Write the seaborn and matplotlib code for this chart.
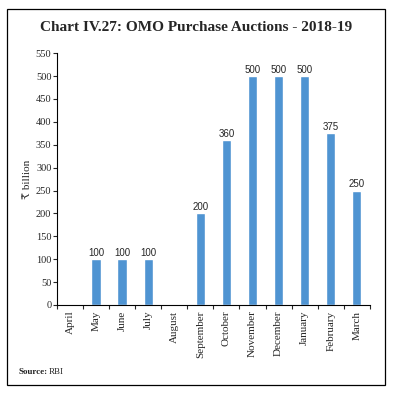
import seaborn as sns
import matplotlib.pyplot as plt
import pandas as pd
from matplotlib.patches import Rectangle

# data
months = ['April', 'May', 'June', 'July', 'August', 'September', 'October',
          'November', 'December', 'January', 'February', 'March']
purchases = [0, 100, 100, 100, 0, 200, 360, 500, 500, 500, 375, 250]
y_ticks = list(range(0, 551, 50))

BAR_COLOR = '#4F94D2'
SERIF = ['Liberation Serif', 'DejaVu Serif', 'DejaVu Sans']

sns.set_style('white')
plt.rcParams['font.family'] = SERIF

df = pd.DataFrame({'month': months, 'value': purchases})

fig = plt.figure(figsize = (3.93, 3.94), dpi = 100)
ax = fig.add_axes([0.145, 0.226, 0.796, 0.639])

sns.barplot(data = df, x = 'month', y = 'value', color = BAR_COLOR,
            width = 0.36, saturation = 1, ax = ax)

# value labels, skip the empty months
labels = [str(v) if v else '' for v in purchases]
ax.bar_label(ax.containers[0], labels = labels, padding = 1, fontsize = 7,
             family = ['Liberation Sans', 'DejaVu Sans'])

ax.set_xlim(-0.5, len(months) - 0.5)
ax.set_ylim(0, 550)
ax.set_yticks(y_ticks)
ax.tick_params(axis = 'y', labelsize = 7.5, length = 3, width = 0.8, pad = 1, left = True, direction = 'out')

# month labels centred, tick marks on the category boundaries
ax.set_xticks(range(len(months)))
ax.set_xticklabels(months, rotation = 90, fontsize = 8)
ax.tick_params(axis = 'x', which = 'major', length = 0, pad = 4)
ax.set_xticks([i - 0.5 for i in range(len(months) + 1)], minor = True)
ax.tick_params(axis = 'x', which = 'minor', length = 3, width = 0.8, bottom = True, direction = 'out')

ax.set_xlabel('')
ax.set_ylabel('₹ billion', fontsize = 8, labelpad = 3)

sns.despine(ax = ax)
for side in ['left', 'bottom']:
  ax.spines[side].set_color('black')
  ax.spines[side].set_linewidth(0.8)

fig.text(0.5, 0.93, 'Chart IV.27: OMO Purchase Auctions - 2018-19', ha = 'center', va = 'center',
         fontsize = 11, fontweight = 'bold')
fig.text(0.046, 0.056, 'Source:', fontsize = 6.5, fontweight = 'bold', va = 'center')
fig.text(0.123, 0.056, 'RBI', fontsize = 6.5, va = 'center')

# frame round the whole chart
fig.patches.append(Rectangle((0.018, 0.023), 0.962, 0.954, transform = fig.transFigure,
                             fill = False, edgecolor = 'black', linewidth = 0.9))

fig.savefig('out.png', dpi = 100)
